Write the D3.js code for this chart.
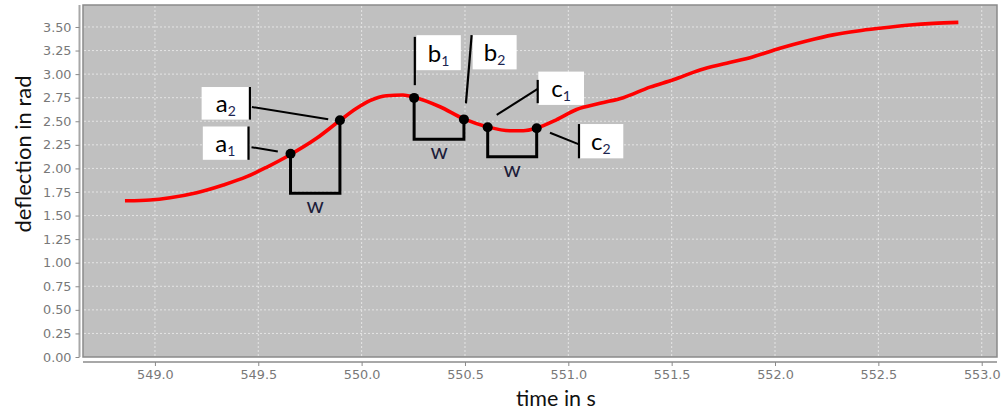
<!DOCTYPE html>
<html><head><meta charset="utf-8">
<script src="https://cdn.jsdelivr.net/npm/d3@7"></script>
<style>
html,body{margin:0;padding:0;background:#fff;}
svg{display:block;}
</style></head>
<body>
<svg id="chart" width="1001" height="409"></svg>
<script>
// ---- data ----
const times = [548.855, 548.93, 548.976, 549.073, 549.202, 549.331, 549.444, 549.54, 549.637, 549.782,
  549.895, 549.976, 550.04, 550.12, 550.2, 550.254, 550.379, 550.495, 550.61, 550.717, 550.782, 550.847,
  550.94, 551.04, 551.153, 551.266, 551.395, 551.508, 551.637, 551.766, 551.895, 552.024, 552.153,
  552.281, 552.4, 552.503, 552.653, 552.766, 552.887];
const deflection = [1.657, 1.66, 1.665, 1.689, 1.742, 1.824, 1.912, 2.012, 2.124, 2.319,
  2.508, 2.637, 2.718, 2.771, 2.778, 2.755, 2.654, 2.525, 2.44, 2.40, 2.40, 2.428,
  2.513, 2.625, 2.69, 2.75, 2.862, 2.94, 3.044, 3.115, 3.185, 3.274, 3.351,
  3.416, 3.458, 3.486, 3.521, 3.538, 3.549];
const xTicks = [549.0, 549.5, 550.0, 550.5, 551.0, 551.5, 552.0, 552.5, 553.0];
const yTicks = [0, 0.25, 0.5, 0.75, 1.0, 1.25, 1.5, 1.75, 2.0, 2.25, 2.5, 2.75, 3.0, 3.25, 3.5];
const markerLetters = ["a", "a", "b", "b", "c", "c"];
const markerIndex = ["1", "2", "1", "2", "1", "2"];
const markerTimes = [549.656, 549.895, 550.254, 550.495, 550.61, 550.847];
const markerValues = [2.155, 2.51, 2.748, 2.52, 2.437, 2.425];
const windowLabel = "w";
const bracketBottoms = [1.736, 2.31, 2.124];   // a, b, c window brackets
const xTitle = "time in s";
const yTitle = "deflection in rad";

// ---- layout ----
const svg = d3.select("#chart");
const L = 83, R = 997, T = 5, B = 357;
const x = d3.scaleLinear().domain([548.652, 553.074]).range([L, R]);
const y = d3.scaleLinear().domain([0, 3.733]).range([B, T]);

// plot background
svg.append("rect").attr("x", L).attr("y", T).attr("width", R - L).attr("height", B - T)
  .attr("fill", "#c0c0c0").attr("stroke", "#8a8a8a").attr("stroke-width", 1.5);

// grid
const grid = svg.append("g").attr("stroke", "#e4e4e4").attr("stroke-width", 1).attr("stroke-dasharray", "2,2");
grid.selectAll("line.v").data(xTicks).join("line").attr("class", "v")
  .attr("x1", d => x(d)).attr("x2", d => x(d)).attr("y1", T + 1).attr("y2", B - 1);
grid.selectAll("line.h").data(yTicks.filter(d => d > 0)).join("line").attr("class", "h")
  .attr("y1", d => y(d)).attr("y2", d => y(d)).attr("x1", L + 1).attr("x2", R - 1);

// axes
const tickFont = "DejaVu Sans, Verdana, sans-serif";
const yAxis = svg.append("g").attr("transform", `translate(79.5,0)`)
  .call(d3.axisLeft(y).tickValues(yTicks).tickFormat(d3.format(".2f")).tickSize(4).tickPadding(4).tickSizeOuter(0));
const xAxis = svg.append("g").attr("transform", `translate(0,362)`)
  .call(d3.axisBottom(x).tickValues(xTicks).tickFormat(d3.format(".1f")).tickSize(4).tickPadding(4).tickSizeOuter(0));
[yAxis, xAxis].forEach(a => {
  a.select(".domain").attr("stroke", "#a8a8a8").attr("stroke-width", 2);
  a.selectAll(".tick line").attr("stroke", "#8a8a8a").attr("stroke-width", 1);
  a.selectAll(".tick text").attr("fill", "#787878").style("font-family", tickFont).style("font-size", "12.8px");
});
yAxis.select(".domain").attr("d", `M0,${T}V${B}`);
xAxis.select(".domain").attr("d", `M${L},0H${R}`);

// titles
const titleFont = "Lato, 'Open Sans', sans-serif";
svg.append("text").attr("x", 556).attr("y", 405.5).attr("text-anchor", "middle")
  .style("font-family", titleFont).style("font-size", "21.5px").attr("fill", "#111").text(xTitle);
svg.append("text").attr("transform", "translate(31,154) rotate(-90)").attr("text-anchor", "middle")
  .style("font-family", titleFont).style("font-size", "22px").attr("fill", "#111").text(yTitle);

// curve
const pts = times.map((t, i) => [t, deflection[i]]);
svg.append("path").datum(pts)
  .attr("d", d3.line().x(d => x(d[0])).y(d => y(d[1])).curve(d3.curveMonotoneX))
  .attr("fill", "none").attr("stroke", "#ff0000").attr("stroke-width", 3.6).attr("stroke-linejoin", "round");

// window brackets
const bg = svg.append("g");
bracketBottoms.forEach((bv, k) => {
  const i1 = 2 * k, i2 = 2 * k + 1;
  const x1 = x(markerTimes[i1]), x2 = x(markerTimes[i2]);
  const yb = y(bv);
  bg.append("path")
    .attr("d", `M${x1},${y(markerValues[i1])}V${yb}H${x2}V${y(markerValues[i2])}`)
    .attr("fill", "none").attr("stroke", "#000").attr("stroke-width", 3);
  bg.append("text").attr("x", (x1 + x2) / 2).attr("y", yb + 20).attr("text-anchor", "middle")
    .style("font-family", titleFont).style("font-size", "22px").attr("fill", "#1c1c3a").text(windowLabel);
});

// markers
svg.append("g").selectAll("circle").data(markerTimes).join("circle")
  .attr("cx", d => x(d)).attr("cy", (d, i) => y(markerValues[i])).attr("r", 5).attr("fill", "#000");

// label boxes (pixel offsets from marker): box [dx, dy, w, h], bar side, leader [x1,y1,x2,y2] rel. to marker
const labelLayout = [
  {box: [-87.7, -27.3, 45, 33.3], bar: [-42, -27.3, -42, 6], lead: [-39, -6.6, -12.7, -2.3]},
  {box: [-138.3, -33.3, 48.3, 32.6], bar: [-90, -33.3, -90, -0.7], lead: [-88, -13.3, -11.7, -1]},
  {box: [2.3, -62.7, 44.4, 35], bar: [0.7, -61, 0.7, -12.7], lead: null},
  {box: [8.7, -84.3, 44, 34.3], bar: [7.7, -84.3, 2, -16], lead: null},
  {box: [50.6, -55.6, 45.7, 33.3], bar: [50, -47.3, 50, -24], lead: [50, -38.3, 9, -12.3]},
  {box: [41.6, -4.3, 45, 34.3], bar: [42.3, -4.3, 42.3, 30], lead: [13.3, 4.4, 42.3, 16]}
];
const lg = svg.append("g");
labelLayout.forEach((lay, i) => {
  const mx = x(markerTimes[i]), my = y(markerValues[i]);
  const [bx, by, bw, bh] = lay.box;
  lg.append("rect").attr("x", mx + bx).attr("y", my + by).attr("width", bw).attr("height", bh).attr("fill", "#fff");
  lg.append("line").attr("x1", mx + lay.bar[0]).attr("y1", my + lay.bar[1]).attr("x2", mx + lay.bar[2]).attr("y2", my + lay.bar[3])
    .attr("stroke", "#000").attr("stroke-width", 2.2);
  if (lay.lead) lg.append("line").attr("x1", mx + lay.lead[0]).attr("y1", my + lay.lead[1])
    .attr("x2", mx + lay.lead[2]).attr("y2", my + lay.lead[3]).attr("stroke", "#000").attr("stroke-width", 2);
  const t = lg.append("text").attr("x", mx + bx + bw / 2).attr("y", my + by + bh * 0.77).attr("text-anchor", "middle")
    .style("font-family", titleFont).style("font-size", "24px").attr("fill", "#000");
  t.append("tspan").text(markerLetters[i]);
  t.append("tspan").attr("dy", 4).style("font-size", "14px").attr("fill", "#1c2550").text(markerIndex[i]);
});
</script>
</body></html>
